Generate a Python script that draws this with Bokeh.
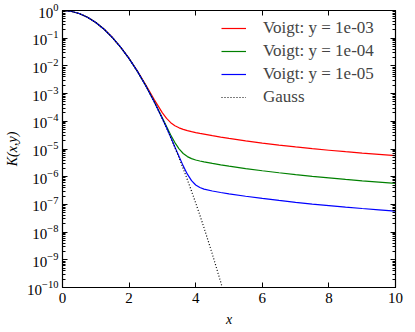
from bokeh.plotting import figure
from bokeh.models import (LinearAxis, LogAxis, Range1d, Legend, LegendItem, FixedTicker,
                          CustomJSTickFormatter)
from bokeh.embed import file_html
from bokeh.resources import INLINE

# ---- data ----
x_voigt = [0, 0.25, 0.5, 0.75, 1, 1.25, 1.5, 1.75, 2, 2.25, 2.5, 2.75, 3, 3.125, 3.25,
           3.375, 3.5, 3.625, 3.75, 3.875, 4, 4.125, 4.25, 4.5, 4.75, 5, 5.5, 6, 6.5,
           7, 7.5, 8, 8.5, 9, 9.5, 10]
k_y1e3 = [0.9989, 0.9394, 0.7782, 0.5698, 0.3680, 0.2096, 0.1057, 0.04690, 0.01855,
          6.50e-3, 2.06e-3, 6.21e-4, 2.02e-4, 1.274e-4, 8.93e-5, 6.93e-5, 5.81e-5,
          5.11e-5, 4.62e-5, 4.23e-5, 3.91e-5, 3.65e-5, 3.43e-5, 3.02e-5, 2.69e-5,
          2.41e-5, 1.97e-5, 1.64e-5, 1.39e-5, 1.19e-5, 1.03e-5, 9.03e-6, 7.98e-6,
          7.10e-6, 6.36e-6, 5.73e-6]
k_y1e4 = [0.9999, 0.9394, 0.7788, 0.5698, 0.3679, 0.2096, 0.1054, 0.04678, 0.01834,
          6.35e-3, 1.943e-3, 5.29e-4, 1.313e-4, 6.44e-5, 3.22e-5, 1.71e-5, 1.012e-5,
          6.88e-6, 5.32e-6, 4.50e-6, 4.01e-6, 3.69e-6, 3.44e-6, 3.02e-6, 2.69e-6,
          2.41e-6, 1.97e-6, 1.64e-6, 1.39e-6, 1.19e-6, 1.03e-6, 9.03e-7, 7.98e-7,
          7.10e-7, 6.36e-7, 5.73e-7]
k_y1e5 = [1.0, 0.9394, 0.7788, 0.5698, 0.3679, 0.2096, 0.1054, 0.04677, 0.01832,
          6.33e-3, 1.931e-3, 5.20e-4, 1.242e-4, 5.81e-5, 2.65e-5, 1.19e-5, 5.32e-6,
          2.46e-6, 1.235e-6, 7.21e-7, 5.03e-7, 4.06e-7, 3.57e-7, 3.04e-7, 2.69e-7,
          2.41e-7, 1.97e-7, 1.64e-7, 1.39e-7, 1.19e-7, 1.03e-7, 9.03e-8, 7.98e-8,
          7.10e-8, 6.36e-8, 5.73e-8]
x_gauss = [0, 0.25, 0.5, 0.75, 1, 1.25, 1.5, 1.75, 2, 2.25, 2.5, 2.75, 3, 3.125, 3.25,
           3.375, 3.5, 3.625, 3.75, 3.875, 4, 4.125, 4.25, 4.5, 4.75, 5]
k_gauss = [1.0, 0.9394, 0.7788, 0.5698, 0.3679, 0.2096, 0.1054, 0.04677, 0.01832,
           6.33e-3, 1.930e-3, 5.19e-4, 1.234e-4, 5.74e-5, 2.59e-5, 1.13e-5, 4.79e-6,
           1.965e-6, 7.81e-7, 3.01e-7, 1.125e-7, 4.07e-8, 1.43e-8, 1.605e-9, 1.59e-10,
           1.39e-11]
labels = ["Voigt: y = 1e-03", "Voigt: y = 1e-04", "Voigt: y = 1e-05", "Gauss"]
x_ticks = [0, 2, 4, 6, 8, 10]
y_ticks = [1e-10, 1e-9, 1e-8, 1e-7, 1e-6, 1e-5, 1e-4, 1e-3, 1e-2, 1e-1, 1e0]
y_minor = [m * 10.0 ** e for e in range(-10, 0) for m in range(2, 10)]

FONT = "Liberation Serif"
AXFONT = "'Liberation Serif', serif"

p = figure(width=415, height=332, y_axis_type="log", output_backend="svg",
           toolbar_location=None, x_range=Range1d(0, 10), y_range=Range1d(1e-10, 1),
           min_border_left=62, min_border_right=20, min_border_top=10, min_border_bottom=45)
p.xgrid.visible = False
p.ygrid.visible = False
p.outline_line_color = "black"
p.outline_line_width = 1.2
p.background_fill_color = "white"
p.border_fill_color = "white"

r1 = p.line(x_voigt, k_y1e3, line_color="#ff0000", line_width=1.2)
r2 = p.line(x_voigt, k_y1e4, line_color="#008000", line_width=1.2)
r3 = p.line(x_voigt, k_y1e5, line_color="#0000ff", line_width=1.2)
r4 = p.line(x_gauss, k_gauss, line_color="black", line_width=1.2, line_dash="1 2")

blank = CustomJSTickFormatter(code="return ''")

def style(ax, show_labels=True):
    ax.axis_line_color = "black"
    ax.major_tick_in = 5
    ax.major_tick_out = 0
    ax.minor_tick_in = 3
    ax.minor_tick_out = 0
    ax.major_label_text_font = AXFONT
    ax.major_label_text_font_size = "15px"
    ax.major_label_text_color = "black"
    ax.axis_label_text_font = AXFONT
    ax.axis_label_text_font_size = "14px"
    ax.axis_label_text_font_style = "italic"
    ax.axis_label_text_color = "black"
    if not show_labels:
        ax.formatter = blank
        ax.major_label_standoff = 0

xa = p.xaxis[0]
xa.ticker = FixedTicker(ticks=x_ticks)
xa.axis_label = "x"
xa.axis_label_standoff = 6
xa.major_label_standoff = 5
style(xa)
ya = p.yaxis[0]
ya.ticker = FixedTicker(ticks=y_ticks, minor_ticks=y_minor)
ya.axis_label = "K(x,y)"
ya.axis_label_standoff = 4
ya.major_label_standoff = 4
style(ya)

top = LinearAxis(ticker=FixedTicker(ticks=x_ticks))
style(top, False)
top.minor_tick_in = 0
p.add_layout(top, "above")
right = LogAxis(ticker=FixedTicker(ticks=y_ticks, minor_ticks=y_minor))
style(right, False)
p.add_layout(right, "right")

legend = Legend(items=[LegendItem(label=labels[0], renderers=[r1]),
                       LegendItem(label=labels[1], renderers=[r2]),
                       LegendItem(label=labels[2], renderers=[r3]),
                       LegendItem(label=labels[3], renderers=[r4])],
                location="top_right")
legend.border_line_color = None
legend.background_fill_alpha = 0
legend.label_text_font = FONT
legend.label_text_font_size = "17px"
legend.label_height = 20
legend.label_width = 124
legend.glyph_height = 20
legend.glyph_width = 25
legend.label_standoff = 17
legend.spacing = 3
legend.padding = 5
legend.margin = 8
p.add_layout(legend)

open("out.html", "w").write(file_html(p, INLINE))
